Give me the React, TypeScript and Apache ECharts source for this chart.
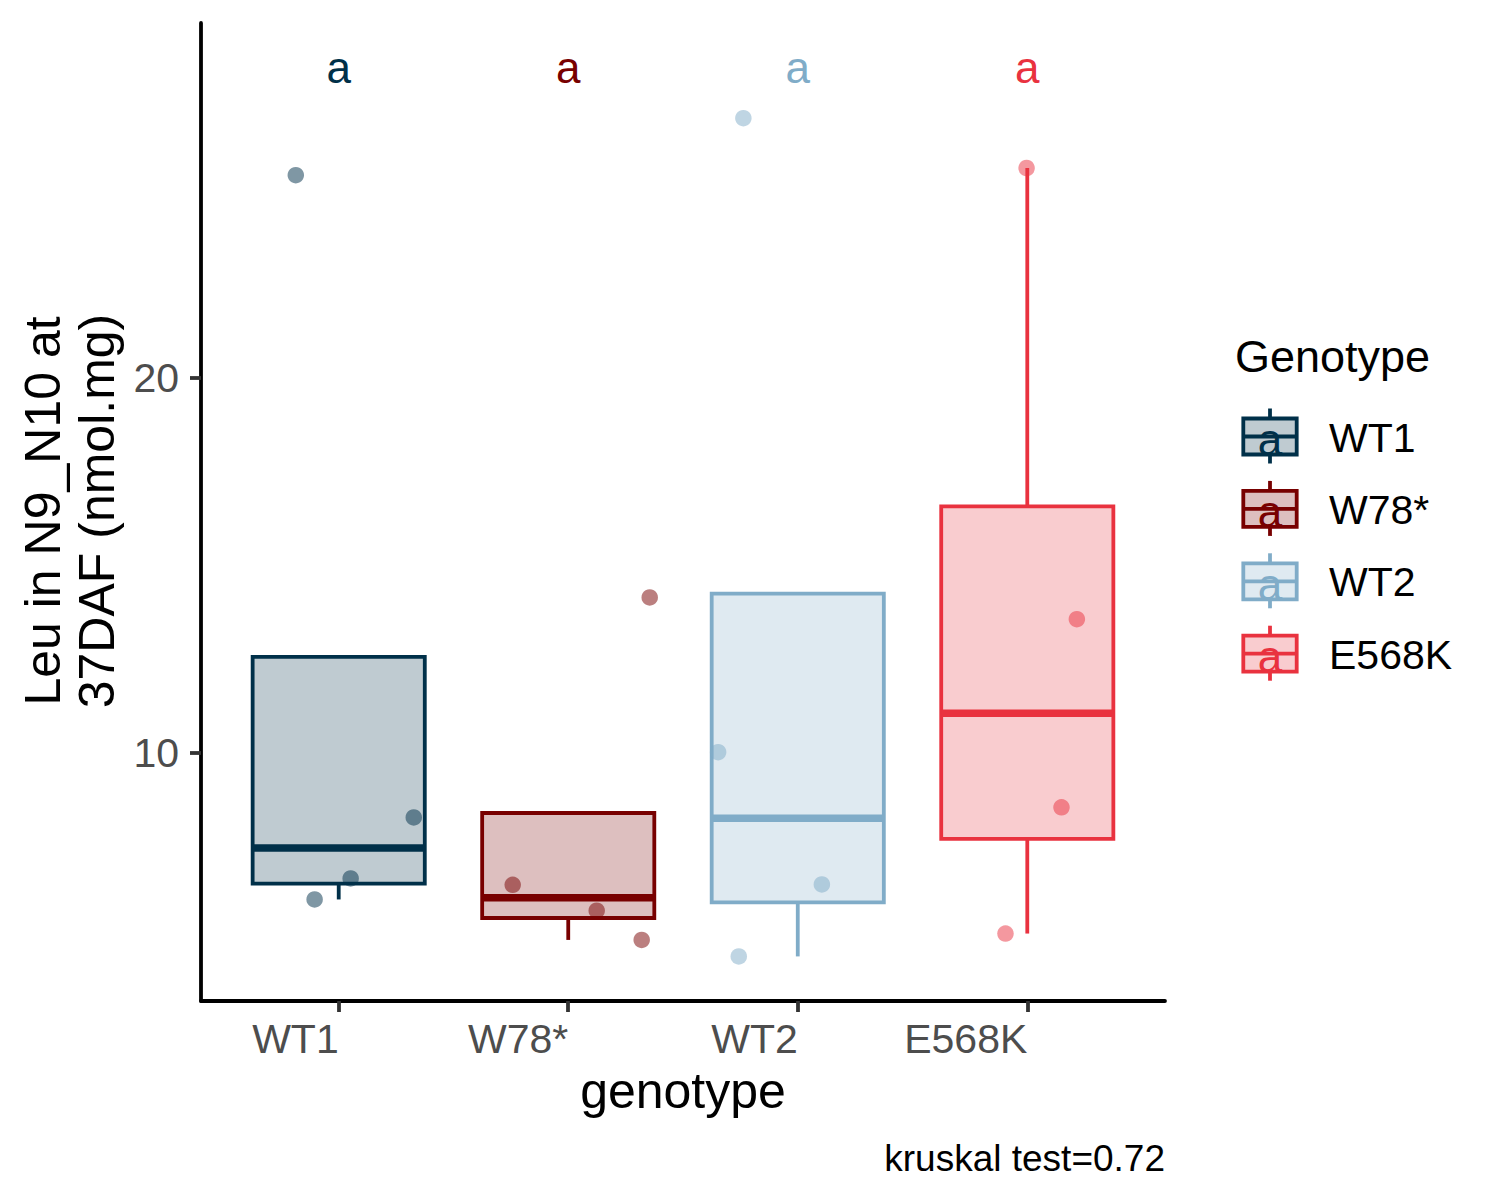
import React, { useEffect, useRef } from "react";
import * as echarts from "echarts";

// ---- data ----
const categories = ["WT1", "W78*", "WT2", "E568K"];
const colors = ["#003049", "#780000", "#80ACC8", "#E9323F"];
const letters = ["a", "a", "a", "a"];

// jittered x positions (category units) and values of the individual samples
const wt1X = [0.813, 0.895, 1.052, 1.327];
const wt1Y = [25.42, 6.09, 6.65, 8.28];
const w78X = [1.758, 2.124, 2.32, 2.355];
const w78Y = [6.48, 5.79, 5.01, 14.15];
const wt2X = [2.763, 2.653, 3.105, 2.743];
const wt2Y = [26.94, 10.02, 6.49, 4.57];
const e568kX = [3.997, 4.216, 4.149, 3.905];
const e568kY = [25.61, 13.57, 8.55, 5.18];

const yTicks = [10, 20];
const xTicks = [1, 2, 3, 4];
const kruskalP = 0.72;

const groupX = [wt1X, w78X, wt2X, e568kX];
const groupY = [wt1Y, w78Y, wt2Y, e568kY];

const FONT = '"Liberation Sans", Arial, Helvetica, sans-serif';
const LW = 3.8;

function quantile(sorted: number[], p: number) {
  const h = (sorted.length - 1) * p;
  const lo = Math.floor(h);
  const hi = Math.ceil(h);
  return sorted[lo] + (h - lo) * (sorted[hi] - sorted[lo]);
}

function boxStats(values: number[]) {
  const s = [...values].sort((a, b) => a - b);
  const q1 = quantile(s, 0.25);
  const med = quantile(s, 0.5);
  const q3 = quantile(s, 0.75);
  const iqr = q3 - q1;
  const inside = s.filter((v) => v >= q1 - 1.5 * iqr && v <= q3 + 1.5 * iqr);
  return [Math.min(q1, ...inside), q1, med, q3, Math.max(q3, ...inside)];
}

function rgba(hex: string, a: number) {
  const n = parseInt(hex.slice(1), 16);
  return `rgba(${(n >> 16) & 255},${(n >> 8) & 255},${n & 255},${a})`;
}

export default function App() {
  const ref = useRef<HTMLDivElement>(null);

  useEffect(() => {
    if (!ref.current) return;
    const chart = echarts.init(ref.current, null, { renderer: "svg" });

    const allY = groupY.flat();
    const letterY = Math.max(...allY) * 1.05;

    const boxData = categories.map((_, i) => [i + 1, ...boxStats(groupY[i])]);

    const scatterSeries = categories.map((c, i) => ({
      type: "scatter",
      name: c,
      data: groupX[i].map((x, j) => [x, groupY[i][j]]),
      symbol: "circle",
      symbolSize: 16.5,
      itemStyle: { color: colors[i], opacity: 0.5 },
      z: 5,
      silent: true,
    }));

    const legendEls: any[] = [];
    legendEls.push({
      type: "text",
      x: 1235,
      y: 356,
      style: {
        text: "Genotype",
        fill: "#000",
        fontSize: 45,
        fontFamily: FONT,
        textAlign: "left",
        textVerticalAlign: "middle",
        align: "left",
        verticalAlign: "middle",
      },
    });
    categories.forEach((c, i) => {
      const cy = 436.5 + i * 72.4;
      const cx = 1270;
      const col = colors[i];
      legendEls.push(
        {
          type: "line",
          shape: { x1: cx, y1: cy - 28, x2: cx, y2: cy - 18 },
          style: { stroke: col, lineWidth: LW },
        },
        {
          type: "line",
          shape: { x1: cx, y1: cy + 18, x2: cx, y2: cy + 27 },
          style: { stroke: col, lineWidth: LW },
        },
        {
          type: "rect",
          shape: { x: cx - 26.7, y: cy - 18, width: 53.4, height: 36 },
          style: { fill: rgba(col, 0.25), stroke: col, lineWidth: LW },
        },
        {
          type: "line",
          shape: { x1: cx - 26.7, y1: cy, x2: cx + 26.7, y2: cy },
          style: { stroke: col, lineWidth: LW },
        },
        {
          type: "text",
          x: cx,
          y: cy + 3,
          style: {
            text: letters[i],
            fill: col,
            fontSize: 44,
            fontFamily: FONT,
            textAlign: "center",
            textVerticalAlign: "middle",
            align: "center",
            verticalAlign: "middle",
          },
        },
        {
          type: "text",
          x: 1329,
          y: cy + 1,
          style: {
            text: c,
            fill: "#000",
            fontSize: 41,
            fontFamily: FONT,
            textAlign: "left",
            textVerticalAlign: "middle",
            align: "left",
            verticalAlign: "middle",
          },
        }
      );
    });

    const option: any = {
      animation: false,
      backgroundColor: "#fff",
      grid: {
        left: 201,
        top: 23,
        width: 964,
        height: 978,
        containLabel: false,
        outerBoundsMode: "none",
      },
      xAxis: {
        type: "value",
        min: 0.4,
        max: 4.6,
        splitLine: { show: false },
        axisLine: { show: true, onZero: false, lineStyle: { color: "#000", width: LW } },
        axisTick: {
          show: true,
          customValues: xTicks,
          length: 11,
          lineStyle: { color: "#333", width: LW },
        },
        axisLabel: {
          show: true,
          customValues: xTicks,
          formatter: (v: number) => categories[Math.round(v) - 1] ?? "",
          align: "right",
          color: "#4D4D4D",
          fontSize: 41,
          fontFamily: FONT,
          margin: 17,
        },
      },
      yAxis: {
        type: "value",
        min: 3.38,
        max: 29.48,
        splitLine: { show: false },
        axisLine: { show: true, onZero: false, lineStyle: { color: "#000", width: LW } },
        axisTick: {
          show: true,
          customValues: yTicks,
          length: 11,
          lineStyle: { color: "#333", width: LW },
        },
        axisLabel: {
          show: true,
          customValues: yTicks,
          color: "#4D4D4D",
          fontSize: 41,
          fontFamily: FONT,
          margin: 22,
        },
      },
      series: [
        {
          type: "custom",
          name: "box",
          data: boxData,
          encode: { x: 0, y: [1, 2, 3, 4, 5] },
          z: 2,
          silent: true,
          renderItem: (params: any, api: any) => {
            const i = params.dataIndex;
            const x = api.value(0);
            const lo = api.coord([x, api.value(1)]);
            const q1 = api.coord([x, api.value(2)]);
            const med = api.coord([x, api.value(3)]);
            const q3 = api.coord([x, api.value(4)]);
            const hi = api.coord([x, api.value(5)]);
            const halfW = api.size([0.75, 0])[0] / 2;
            const cx = lo[0];
            const col = colors[i];
            const children: any[] = [];
            if (Math.abs(hi[1] - q3[1]) > 0.5) {
              children.push({
                type: "line",
                shape: { x1: cx, y1: q3[1], x2: cx, y2: hi[1] },
                style: { stroke: col, lineWidth: LW },
              });
            }
            if (Math.abs(lo[1] - q1[1]) > 0.5) {
              children.push({
                type: "line",
                shape: { x1: cx, y1: q1[1], x2: cx, y2: lo[1] },
                style: { stroke: col, lineWidth: LW },
              });
            }
            children.push({
              type: "rect",
              shape: { x: cx - halfW, y: q3[1], width: 2 * halfW, height: q1[1] - q3[1] },
              style: { fill: rgba(col, 0.25), stroke: col, lineWidth: LW },
            });
            children.push({
              type: "line",
              shape: { x1: cx - halfW, y1: med[1], x2: cx + halfW, y2: med[1] },
              style: { stroke: col, lineWidth: 7.5 },
            });
            return { type: "group", children };
          },
        },
        ...scatterSeries,
        {
          type: "custom",
          name: "letters",
          data: categories.map((_, i) => [i + 1, letterY]),
          encode: { x: 0, y: 1 },
          z: 6,
          silent: true,
          renderItem: (params: any, api: any) => {
            const i = params.dataIndex;
            const p = api.coord([api.value(0), api.value(1)]);
            return {
              type: "text",
              x: p[0],
              y: p[1],
              style: {
                text: letters[i],
                fill: colors[i],
                fontSize: 44,
                fontFamily: FONT,
                textAlign: "center",
                textVerticalAlign: "middle",
                align: "center",
                verticalAlign: "middle",
              },
            };
          },
        },
      ],
      graphic: [
        {
          type: "text",
          x: 683,
          y: 1091,
          style: {
            text: "genotype",
            fill: "#000",
            fontSize: 50,
            fontFamily: FONT,
            textAlign: "center",
            textVerticalAlign: "middle",
            align: "center",
            verticalAlign: "middle",
          },
        },
        {
          type: "text",
          x: 70,
          y: 511,
          rotation: Math.PI / 2,
          style: {
            text: "Leu in N9_N10 at\n37DAF (nmol.mg)",
            fill: "#000",
            fontSize: 50,
            lineHeight: 54,
            fontFamily: FONT,
            textAlign: "center",
            textVerticalAlign: "middle",
            align: "center",
            verticalAlign: "middle",
          },
        },
        {
          type: "text",
          x: 1165,
          y: 1158,
          style: {
            text: `kruskal test=${kruskalP}`,
            fill: "#000",
            fontSize: 37,
            fontFamily: FONT,
            textAlign: "right",
            textVerticalAlign: "middle",
            align: "right",
            verticalAlign: "middle",
          },
        },
        ...legendEls,
      ],
    };

    chart.setOption(option);
    return () => chart.dispose();
  }, []);

  return (
    <div
      ref={ref}
      style={{ position: "absolute", left: 0, top: 0, width: 1500, height: 1200 }}
    />
  );
}
